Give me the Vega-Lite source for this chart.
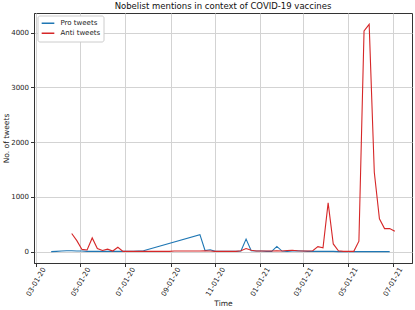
{
  "$schema": "https://vega.github.io/schema/vega-lite/v6.json",
  "width": 378,
  "height": 250,
  "autosize": {"type": "none"},
  "padding": {"left": 34, "top": 13, "right": 3, "bottom": 47},
  "background": "white",
  "config": {
    "font": "DejaVu Sans",
    "view": {"stroke": "#333333", "strokeWidth": 1},
    "axis": {
      "labelFont": "DejaVu Sans",
      "titleFont": "DejaVu Sans",
      "labelFontSize": 7,
      "titleFontSize": 7.5,
      "titleFontWeight": "normal",
      "labelColor": "#222222",
      "titleColor": "#222222",
      "gridColor": "#d3d3d3",
      "gridWidth": 1,
      "domainColor": "#333333",
      "tickColor": "#333333",
      "tickSize": 3.5
    }
  },
  "title": {
    "text": "Nobelist mentions in context of COVID-19 vaccines",
    "font": "DejaVu Sans",
    "fontSize": 8.5,
    "fontWeight": "normal",
    "color": "#111111",
    "anchor": "middle",
    "offset": 3
  },
  "data": {
    "values": [
      {"date": "2020-03-22", "series": "Pro tweets", "count": 0},
      {"date": "2020-03-29", "series": "Pro tweets", "count": 5},
      {"date": "2020-04-05", "series": "Pro tweets", "count": 10},
      {"date": "2020-04-12", "series": "Pro tweets", "count": 15},
      {"date": "2020-04-19", "series": "Pro tweets", "count": 15},
      {"date": "2020-04-26", "series": "Pro tweets", "count": 10},
      {"date": "2020-05-03", "series": "Pro tweets", "count": 10},
      {"date": "2020-05-10", "series": "Pro tweets", "count": 5},
      {"date": "2020-05-17", "series": "Pro tweets", "count": 5},
      {"date": "2020-05-24", "series": "Pro tweets", "count": 5},
      {"date": "2020-05-31", "series": "Pro tweets", "count": 5},
      {"date": "2020-06-07", "series": "Pro tweets", "count": 5},
      {"date": "2020-06-14", "series": "Pro tweets", "count": 5},
      {"date": "2020-06-21", "series": "Pro tweets", "count": 5},
      {"date": "2020-06-28", "series": "Pro tweets", "count": 5},
      {"date": "2020-07-05", "series": "Pro tweets", "count": 5},
      {"date": "2020-07-12", "series": "Pro tweets", "count": 5},
      {"date": "2020-07-19", "series": "Pro tweets", "count": 10},
      {"date": "2020-07-26", "series": "Pro tweets", "count": 15},
      {"date": "2020-10-11", "series": "Pro tweets", "count": 310},
      {"date": "2020-10-18", "series": "Pro tweets", "count": 20},
      {"date": "2020-10-25", "series": "Pro tweets", "count": 35},
      {"date": "2020-11-01", "series": "Pro tweets", "count": 5},
      {"date": "2020-11-08", "series": "Pro tweets", "count": 5},
      {"date": "2020-11-15", "series": "Pro tweets", "count": 5},
      {"date": "2020-11-22", "series": "Pro tweets", "count": 5},
      {"date": "2020-11-29", "series": "Pro tweets", "count": 5},
      {"date": "2020-12-06", "series": "Pro tweets", "count": 10},
      {"date": "2020-12-13", "series": "Pro tweets", "count": 230},
      {"date": "2020-12-20", "series": "Pro tweets", "count": 15},
      {"date": "2020-12-27", "series": "Pro tweets", "count": 10},
      {"date": "2021-01-03", "series": "Pro tweets", "count": 10},
      {"date": "2021-01-10", "series": "Pro tweets", "count": 5},
      {"date": "2021-01-17", "series": "Pro tweets", "count": 5},
      {"date": "2021-01-24", "series": "Pro tweets", "count": 95},
      {"date": "2021-01-31", "series": "Pro tweets", "count": 10},
      {"date": "2021-02-07", "series": "Pro tweets", "count": 5},
      {"date": "2021-02-14", "series": "Pro tweets", "count": 10},
      {"date": "2021-02-21", "series": "Pro tweets", "count": 15},
      {"date": "2021-02-28", "series": "Pro tweets", "count": 10},
      {"date": "2021-03-07", "series": "Pro tweets", "count": 5},
      {"date": "2021-03-14", "series": "Pro tweets", "count": 5},
      {"date": "2021-03-21", "series": "Pro tweets", "count": 5},
      {"date": "2021-03-28", "series": "Pro tweets", "count": 5},
      {"date": "2021-04-04", "series": "Pro tweets", "count": 5},
      {"date": "2021-04-11", "series": "Pro tweets", "count": 5},
      {"date": "2021-04-18", "series": "Pro tweets", "count": 0},
      {"date": "2021-04-25", "series": "Pro tweets", "count": 0},
      {"date": "2021-05-02", "series": "Pro tweets", "count": 0},
      {"date": "2021-05-09", "series": "Pro tweets", "count": 0},
      {"date": "2021-05-16", "series": "Pro tweets", "count": 0},
      {"date": "2021-05-23", "series": "Pro tweets", "count": 0},
      {"date": "2021-05-30", "series": "Pro tweets", "count": 0},
      {"date": "2021-06-06", "series": "Pro tweets", "count": 0},
      {"date": "2021-06-13", "series": "Pro tweets", "count": 0},
      {"date": "2021-06-20", "series": "Pro tweets", "count": 0},
      {"date": "2021-06-27", "series": "Pro tweets", "count": 0},
      {"date": "2020-04-19", "series": "Anti tweets", "count": 330},
      {"date": "2020-04-26", "series": "Anti tweets", "count": 200},
      {"date": "2020-05-03", "series": "Anti tweets", "count": 40},
      {"date": "2020-05-10", "series": "Anti tweets", "count": 30},
      {"date": "2020-05-17", "series": "Anti tweets", "count": 250},
      {"date": "2020-05-24", "series": "Anti tweets", "count": 55},
      {"date": "2020-05-31", "series": "Anti tweets", "count": 20},
      {"date": "2020-06-07", "series": "Anti tweets", "count": 45},
      {"date": "2020-06-14", "series": "Anti tweets", "count": 10},
      {"date": "2020-06-21", "series": "Anti tweets", "count": 80},
      {"date": "2020-06-28", "series": "Anti tweets", "count": 5},
      {"date": "2020-07-05", "series": "Anti tweets", "count": 5},
      {"date": "2020-07-12", "series": "Anti tweets", "count": 5},
      {"date": "2020-07-19", "series": "Anti tweets", "count": 5},
      {"date": "2020-07-26", "series": "Anti tweets", "count": 5},
      {"date": "2020-08-02", "series": "Anti tweets", "count": 5},
      {"date": "2020-08-09", "series": "Anti tweets", "count": 5},
      {"date": "2020-08-16", "series": "Anti tweets", "count": 5},
      {"date": "2020-08-23", "series": "Anti tweets", "count": 5},
      {"date": "2020-08-30", "series": "Anti tweets", "count": 5},
      {"date": "2020-09-06", "series": "Anti tweets", "count": 10},
      {"date": "2020-09-13", "series": "Anti tweets", "count": 10},
      {"date": "2020-09-20", "series": "Anti tweets", "count": 10},
      {"date": "2020-09-27", "series": "Anti tweets", "count": 10},
      {"date": "2020-10-04", "series": "Anti tweets", "count": 10},
      {"date": "2020-10-11", "series": "Anti tweets", "count": 10},
      {"date": "2020-10-18", "series": "Anti tweets", "count": 15},
      {"date": "2020-10-25", "series": "Anti tweets", "count": 10},
      {"date": "2020-11-01", "series": "Anti tweets", "count": 5},
      {"date": "2020-11-08", "series": "Anti tweets", "count": 5},
      {"date": "2020-11-15", "series": "Anti tweets", "count": 5},
      {"date": "2020-11-22", "series": "Anti tweets", "count": 5},
      {"date": "2020-11-29", "series": "Anti tweets", "count": 5},
      {"date": "2020-12-06", "series": "Anti tweets", "count": 15},
      {"date": "2020-12-13", "series": "Anti tweets", "count": 55},
      {"date": "2020-12-20", "series": "Anti tweets", "count": 25},
      {"date": "2020-12-27", "series": "Anti tweets", "count": 10},
      {"date": "2021-01-03", "series": "Anti tweets", "count": 10},
      {"date": "2021-01-10", "series": "Anti tweets", "count": 10},
      {"date": "2021-01-17", "series": "Anti tweets", "count": 10},
      {"date": "2021-01-24", "series": "Anti tweets", "count": 15},
      {"date": "2021-01-31", "series": "Anti tweets", "count": 10},
      {"date": "2021-02-07", "series": "Anti tweets", "count": 20},
      {"date": "2021-02-14", "series": "Anti tweets", "count": 25},
      {"date": "2021-02-21", "series": "Anti tweets", "count": 15},
      {"date": "2021-02-28", "series": "Anti tweets", "count": 10},
      {"date": "2021-03-07", "series": "Anti tweets", "count": 10},
      {"date": "2021-03-14", "series": "Anti tweets", "count": 15},
      {"date": "2021-03-21", "series": "Anti tweets", "count": 90},
      {"date": "2021-03-28", "series": "Anti tweets", "count": 70},
      {"date": "2021-04-04", "series": "Anti tweets", "count": 890},
      {"date": "2021-04-11", "series": "Anti tweets", "count": 140},
      {"date": "2021-04-18", "series": "Anti tweets", "count": 15},
      {"date": "2021-04-25", "series": "Anti tweets", "count": 5},
      {"date": "2021-05-02", "series": "Anti tweets", "count": 5},
      {"date": "2021-05-09", "series": "Anti tweets", "count": 5},
      {"date": "2021-05-16", "series": "Anti tweets", "count": 190},
      {"date": "2021-05-23", "series": "Anti tweets", "count": 4030},
      {"date": "2021-05-30", "series": "Anti tweets", "count": 4150},
      {"date": "2021-06-06", "series": "Anti tweets", "count": 1450},
      {"date": "2021-06-13", "series": "Anti tweets", "count": 600},
      {"date": "2021-06-20", "series": "Anti tweets", "count": 420},
      {"date": "2021-06-27", "series": "Anti tweets", "count": 420},
      {"date": "2021-07-04", "series": "Anti tweets", "count": 370}
    ]
  },
  "mark": {"type": "line", "strokeWidth": 1.1, "clip": true},
  "encoding": {
    "x": {
      "field": "date",
      "type": "temporal",
      "scale": {
        "type": "utc",
        "domain": [
          {"year": 2020, "month": 2, "date": 27, "hours": 13, "utc": true},
          {"year": 2021, "month": 7, "date": 27, "hours": 11, "utc": true}
        ]
      },
      "axis": {
        "title": "Time",
        "values": [
          {"year": 2020, "month": 3, "date": 1, "utc": true},
          {"year": 2020, "month": 5, "date": 1, "utc": true},
          {"year": 2020, "month": 7, "date": 1, "utc": true},
          {"year": 2020, "month": 9, "date": 1, "utc": true},
          {"year": 2020, "month": 11, "date": 1, "utc": true},
          {"year": 2021, "month": 1, "date": 1, "utc": true},
          {"year": 2021, "month": 3, "date": 1, "utc": true},
          {"year": 2021, "month": 5, "date": 1, "utc": true},
          {"year": 2021, "month": 7, "date": 1, "utc": true}
        ],
        "labelExpr": "utcFormat(datum.value, '%m-%d-%y')",
        "labelAngle": -60,
        "labelAlign": "center",
        "labelBaseline": "middle",
        "labelPadding": 15,
        "labelOverlap": false,
        "titleBaseline": "middle",
        "titleY": 40,
        "titleX": 189,
        "titleAlign": "center"
      }
    },
    "y": {
      "field": "count",
      "type": "quantitative",
      "scale": {"domain": [-208, 4358], "nice": false, "zero": false},
      "axis": {
        "title": "No. of tweets",
        "values": [0, 1000, 2000, 3000, 4000],
        "format": "d",
        "labelPadding": 2,
        "titleX": -28,
        "titleY": 125,
        "titleAlign": "center",
        "titleBaseline": "middle",
        "titleAngle": -90
      }
    },
    "color": {
      "field": "series",
      "type": "nominal",
      "sort": ["Pro tweets", "Anti tweets"],
      "scale": {"domain": ["Pro tweets", "Anti tweets"], "range": ["#1f77b4", "#d62728"]},
      "legend": {
        "title": null,
        "orient": "none",
        "legendX": 3.5,
        "legendY": 2.5,
        "symbolType": "stroke",
        "symbolSize": 160,
        "symbolStrokeWidth": 1.5,
        "labelFont": "DejaVu Sans",
        "labelFontSize": 7,
        "labelColor": "#222222",
        "labelOffset": 5,
        "fillColor": "white",
        "strokeColor": "#cccccc",
        "cornerRadius": 2,
        "padding": 3,
        "rowPadding": 0,
        "clipHeight": 9.5
      }
    }
  }
}
